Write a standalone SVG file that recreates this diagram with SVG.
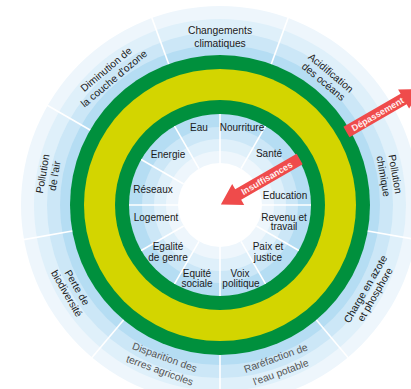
<svg xmlns="http://www.w3.org/2000/svg" width="411" height="389" viewBox="0 0 411 389">
<style>
text{font-family:"Liberation Sans",Arial,sans-serif;text-anchor:middle}
.o{font-size:10.3px;fill:#1a1a1a}
.g{fill:#555}
.i{font-size:10px;fill:#1a1a1a}
.ar{fill:#ef4b4b}
.at{font-size:9px;font-weight:bold;fill:#fff0f0}
</style>
<defs>
<line id="os" x1="0" y1="-150" x2="0" y2="-205" stroke="#fff" stroke-width="1.6"/>
<line id="is" x1="0" y1="-42" x2="0" y2="-91" stroke="#fff" stroke-width="1.6"/>
</defs>
<rect width="411" height="389" fill="#fff"/>
<g id="rings">
<circle cx="220" cy="205" r="199" fill="#eef6fc"/>
<circle cx="220" cy="205" r="186" fill="#dff0fa"/>
<circle cx="220" cy="205" r="173" fill="#cce7f7"/>
<circle cx="220" cy="205" r="160" fill="#b5ddf3"/>
<circle cx="220" cy="205" r="150" fill="#00903d"/>
<circle cx="220" cy="205" r="136" fill="#d3d500"/>
<circle cx="220" cy="205" r="105" fill="#00903d"/>
<circle cx="220" cy="205" r="91" fill="#b5ddf3"/>
<circle cx="220" cy="205" r="78" fill="#cce7f7"/>
<circle cx="220" cy="205" r="66" fill="#dff0fa"/>
<circle cx="220" cy="205" r="54" fill="#eef6fc"/>
<circle cx="220" cy="205" r="42" fill="#fff"/>
</g>
<g id="spokes" transform="translate(220 205)">
<use href="#os" transform="rotate(20)"/>
<use href="#os" transform="rotate(60)"/>
<use href="#os" transform="rotate(100)"/>
<use href="#os" transform="rotate(140)"/>
<use href="#os" transform="rotate(180)"/>
<use href="#os" transform="rotate(220)"/>
<use href="#os" transform="rotate(260)"/>
<use href="#os" transform="rotate(300)"/>
<use href="#os" transform="rotate(340)"/>
<use href="#is"/>
<use href="#is" transform="rotate(30)"/>
<use href="#is" transform="rotate(60)"/>
<use href="#is" transform="rotate(90)"/>
<use href="#is" transform="rotate(120)"/>
<use href="#is" transform="rotate(150)"/>
<use href="#is" transform="rotate(180)"/>
<use href="#is" transform="rotate(210)"/>
<use href="#is" transform="rotate(240)"/>
<use href="#is" transform="rotate(270)"/>
<use href="#is" transform="rotate(300)"/>
<use href="#is" transform="rotate(330)"/>
</g>
<g id="changements-climatiques" transform="translate(220 205)">
<text class="o" y="-171.5">Changements</text>
<text class="o" y="-158.5">climatiques</text>
</g>
<g id="acidification" transform="translate(220 205) rotate(40)">
<text class="o" y="-169">Acidification</text>
<text class="o" y="-157.5">des océans</text>
</g>
<g id="pollution-chimique" transform="translate(220 205) rotate(80)">
<text class="o" y="-174.5">Pollution</text>
<text class="o" y="-162.5">chimique</text>
</g>
<g id="charge-azote" transform="translate(220 205) rotate(-60)">
<text class="o" y="171.5">Charge en azote</text>
<text class="o" y="182.5">et phosphore</text>
</g>
<g id="eau-potable" transform="translate(220 205) rotate(-20)">
<text class="o g" y="166.5">Raréfaction de</text>
<text class="o g" y="181.5">l'eau potable</text>
</g>
<g id="terres-agricoles" transform="translate(220 205) rotate(20)">
<text class="o g" y="165.5">Disparition des</text>
<text class="o g" y="179.5">terres agricoles</text>
</g>
<g id="biodiversite" transform="translate(220 205) rotate(60)">
<text class="o" y="168.5">Perte de</text>
<text class="o" y="180.5">biodiversité</text>
</g>
<g id="pollution-air" transform="translate(220 205) rotate(-80)">
<text class="o" y="-176.5">Pollution</text>
<text class="o" y="-164.5">de l'air</text>
</g>
<g id="ozone" transform="translate(220 205) rotate(-40)">
<text class="o" y="-173.5">Diminution de</text>
<text class="o" y="-161.5">la couche d'ozone</text>
</g>
<g id="eau"><text class="i" x="199" y="130.5">Eau</text></g>
<g id="nourriture"><text class="i" x="242" y="130.5">Nourriture</text></g>
<g id="sante"><text class="i" x="269" y="156.5">Santé</text></g>
<g id="energie"><text class="i" x="168" y="157.5">Energie</text></g>
<g id="reseaux"><text class="i" x="153" y="192.5">Réseaux</text></g>
<g id="education"><text class="i" x="285" y="198.5">Education</text></g>
<g id="logement"><text class="i" x="156" y="221">Logement</text></g>
<g id="revenu"><text class="i" x="284" y="220.5">Revenu et</text><text class="i" x="284" y="230">travail</text></g>
<g id="egalite"><text class="i" x="168" y="249.5">Egalité</text><text class="i" x="168" y="260.5">de genre</text></g>
<g id="paix"><text class="i" x="268" y="249.5">Paix et</text><text class="i" x="268" y="260.5">justice</text></g>
<g id="equite"><text class="i" x="197" y="276.5">Equité</text><text class="i" x="197" y="286.5">sociale</text></g>
<g id="voix"><text class="i" x="240" y="276.5">Voix</text><text class="i" x="241" y="286.5">politique</text></g>
<g id="arrows">
<g id="insuffisances" transform="translate(220 205) rotate(-30)">
<polygon class="ar" points="1,0 21,-12 21,-6 92,-6 92,6 21,6 21,12"/>
<text class="at" x="54" y="3.2">Insuffisances</text>
</g>
<g id="depassement" transform="translate(220 205) rotate(-30)">
<polygon class="ar" points="146,-6 212,-6 212,-11 232,0 212,11 212,6 146,6"/>
<text class="at" x="182" y="3.2">Dépassement</text>
</g>
</g>
</svg>
